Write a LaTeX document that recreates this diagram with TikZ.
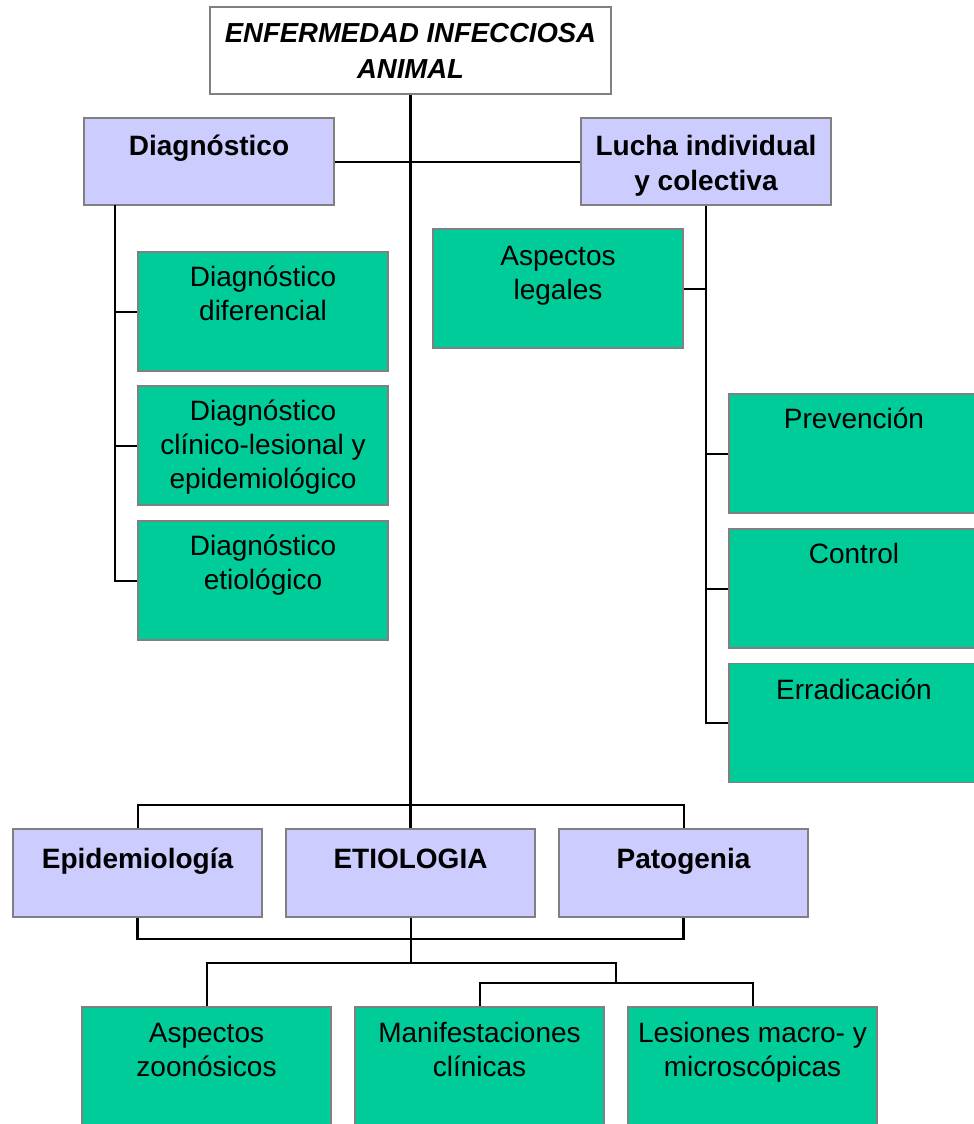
\documentclass[tikz,border=0pt]{standalone}
\usepackage{fontspec}
\setmainfont{Liberation Sans}
\definecolor{boxgreen}{RGB}{0,204,153}
\definecolor{boxlav}{RGB}{204,204,255}
\definecolor{bordergray}{RGB}{128,128,128}
\begin{document}
\begin{tikzpicture}[x=1pt,y=-1pt,
  box/.style={draw=bordergray, line width=1.5pt, inner sep=0pt, minimum width=250pt, minimum height=119pt},
  gbox/.style={box, fill=boxgreen},
  lbox/.style={box, fill=boxlav, minimum height=88pt},
  txt/.style={anchor=north, align=center, inner sep=0pt, font=\fontsize{28}{34}\selectfont, yshift=-11.2pt},
  btxt/.style={txt, font=\fontsize{28}{35}\selectfont\bfseries, yshift=-2.3pt},
  ltxt/.style={txt, font=\fontsize{28}{34}\selectfont\bfseries, yshift=-4.7pt},
  conn/.style={draw=black, line width=2pt},
  mainline/.style={draw=black, line width=2.5pt}
]
\useasboundingbox (0,0) rectangle (974,1124);

% nodes
\node[box, fill=white, minimum width=401pt, minimum height=87pt,
  label={[txt, yshift=0.5pt, font=\fontsize{27.5}{36}\selectfont\bfseries\itshape]north:{\strut ENFERMEDAD INFECCIOSA\\ANIMAL}}] (top) at (410.5,50.5) {};

\node[lbox, minimum height=87pt, label={[btxt]north:{\strut Diagnóstico}}] (diag) at (209,161.5) {};
\node[lbox, minimum height=87pt, label={[btxt]north:{\strut Lucha individual\\y colectiva}}] (lucha) at (706,161.5) {};

\node[gbox, label={[txt]north:{\strut Diagnóstico\\diferencial}}] (d1) at (263,311.5) {};
\node[gbox, label={[txt]north:{\strut Diagnóstico\\clínico-lesional y\\epidemiológico}}] (d2) at (263,445.5) {};
\node[gbox, label={[txt]north:{\strut Diagnóstico\\etiológico}}] (d3) at (263,580.5) {};

\node[gbox, label={[txt, yshift=-2.5pt]north:{\strut Aspectos\\legales}}] (legal) at (558,288.5) {};
\node[gbox, label={[txt]north:{\strut Prevención}}] (prev) at (854,453.5) {};
\node[gbox, label={[txt]north:{\strut Control}}] (ctrl) at (854,588.5) {};
\node[gbox, label={[txt, yshift=-1.5pt]north:{\strut Erradicación}}] (errad) at (854,723) {};

\node[lbox, minimum width=249pt, label={[ltxt]north:{\strut Epidemiología}}] (epi) at (137.5,873) {};
\node[lbox, minimum width=249pt, label={[ltxt]north:{\strut ETIOLOGIA}}] (etio) at (410.5,873) {};
\node[lbox, minimum width=249pt, label={[ltxt]north:{\strut Patogenia}}] (pato) at (683.5,873) {};

\node[gbox, minimum width=249pt, label={[txt, yshift=-1.5pt]north:{\strut Aspectos\\zoonósicos}}] (zoo) at (206.5,1066.5) {};
\node[gbox, minimum width=249pt, label={[txt, yshift=-1.5pt]north:{\strut Manifestaciones\\clínicas}}] (manif) at (479.5,1066.5) {};
\node[gbox, minimum width=249pt, label={[txt, yshift=-1.5pt]north:{\strut Lesiones macro- y\\microscópicas}}] (lesion) at (752.5,1066.5) {};

% helper coordinates
\coordinate (dl) at (115,205);
\coordinate (bus1) at (410.5,805);
\coordinate (bus2) at (410.5,939);
\coordinate (bus3) at (410.5,963);
\coordinate (bus4) at (616,983);

% connectors
\draw[mainline] (top.south) -- (etio.north);
\draw[conn] (diag.east) -- (lucha.west);
\draw[conn] (dl) |- (d1.west);
\draw[conn] (dl) |- (d2.west);
\draw[conn] (dl) |- (d3.west);
\draw[conn] (lucha.south) |- (legal.east);
\draw[conn] (lucha.south) |- (prev.west);
\draw[conn] (lucha.south) |- (ctrl.west);
\draw[conn] (lucha.south) |- (errad.west);
\draw[conn] (epi.north) |- (bus1) -| (pato.north);
\draw[mainline] (epi.south) |- (bus2) -| (pato.south);
\draw[conn] (etio.south) -- (bus3);
\draw[conn] (zoo.north) |- (bus3) -| (bus4);
\draw[conn] (manif.north) |- (bus4) -| (lesion.north);
\end{tikzpicture}
\end{document}
